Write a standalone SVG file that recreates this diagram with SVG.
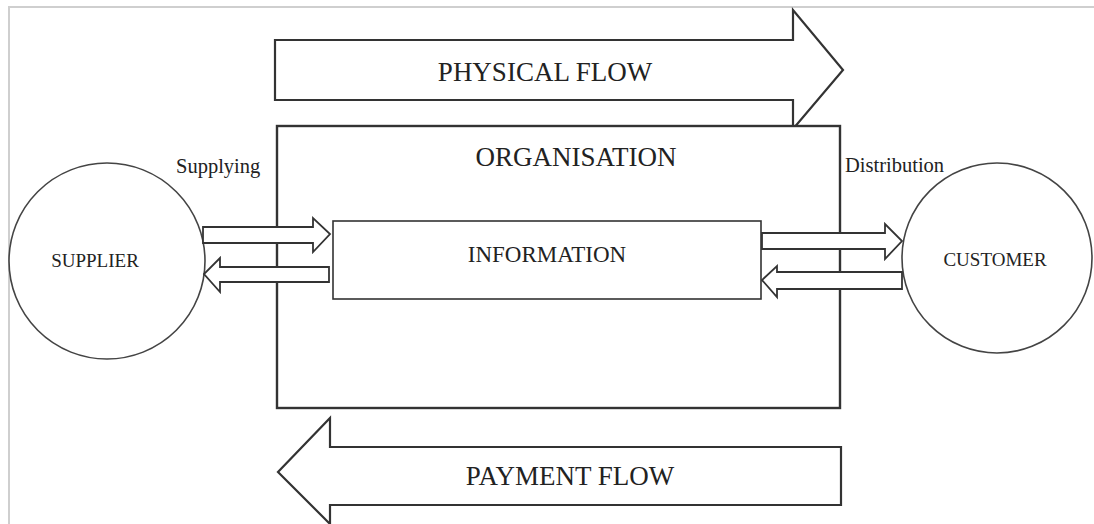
<svg xmlns="http://www.w3.org/2000/svg" width="1094" height="524" viewBox="0 0 1094 524">
  <style>
    .frame { fill: none; stroke: #cfcfcf; stroke-width: 2; }
    .big { fill: #fff; stroke: #333; stroke-width: 2.2; stroke-linejoin: miter; }
    .box { fill: #fff; stroke: #333; stroke-width: 2.4; }
    .inner { fill: #fff; stroke: #333; stroke-width: 1.6; }
    .small { fill: #fff; stroke: #333; stroke-width: 1.8; stroke-linejoin: miter; }
    .circ { fill: #fff; stroke: #444; stroke-width: 1.6; }
    text { font-family: "Liberation Serif", "Times New Roman", serif; fill: #222; }
    .t-big { font-size: 27px; text-anchor: middle; }
    .t-mid { font-size: 23px; text-anchor: middle; }
    .t-node { font-size: 19px; text-anchor: middle; }
    .t-lab { font-size: 20.5px; }
  </style>

  <rect width="1094" height="524" fill="#fff"/>
  <!-- outer frame (right and bottom edges run off the canvas) -->
  <rect class="frame" x="9" y="7" width="1100" height="530"/>

  <!-- flow arrows -->
  <g id="physical-flow">
    <polygon class="big" points="275,40 793,40 793,10 843,70 793,129 793,100 275,100"/>
    <text class="t-big" x="545" y="81">PHYSICAL FLOW</text>
  </g>
  <g id="payment-flow">
    <polygon class="big" points="841,447 330,447 330,418 278,472 330,524 330,505 841,505"/>
    <text class="t-big" x="570" y="485">PAYMENT FLOW</text>
  </g>

  <!-- organisation -->
  <g id="organisation">
    <rect class="box" x="277" y="126" width="563" height="282"/>
    <text class="t-big" x="576" y="166">ORGANISATION</text>
  </g>

  <!-- supplier -->
  <g id="supplier">
    <circle class="circ" cx="107" cy="261" r="98"/>
    <text class="t-node" x="95" y="267">SUPPLIER</text>
  </g>

  <!-- customer -->
  <g id="customer">
    <circle class="circ" cx="997" cy="258" r="95"/>
    <text class="t-node" x="995" y="266">CUSTOMER</text>
  </g>

  <!-- connectors -->
  <g id="connectors">
    <polygon class="small" points="203,227 313,227 313,218 330,234 313,252 313,243 203,243"/>
    <polygon class="small" points="329,267 220,267 220,258 204,274 220,292 220,282 329,282"/>
    <polygon class="small" points="762,233 885,233 885,224 902,241 885,259 885,249 762,249"/>
    <polygon class="small" points="902,272 777,272 777,266 762,280 777,297 777,289 902,289"/>
  </g>

  <!-- information -->
  <g id="information">
    <rect class="inner" x="333" y="221" width="428" height="78"/>
    <text class="t-mid" x="547" y="262">INFORMATION</text>
  </g>

  <!-- edge labels -->
  <text class="t-lab" x="176" y="173">Supplying</text>
  <text class="t-lab" x="845" y="172">Distribution</text>
</svg>
